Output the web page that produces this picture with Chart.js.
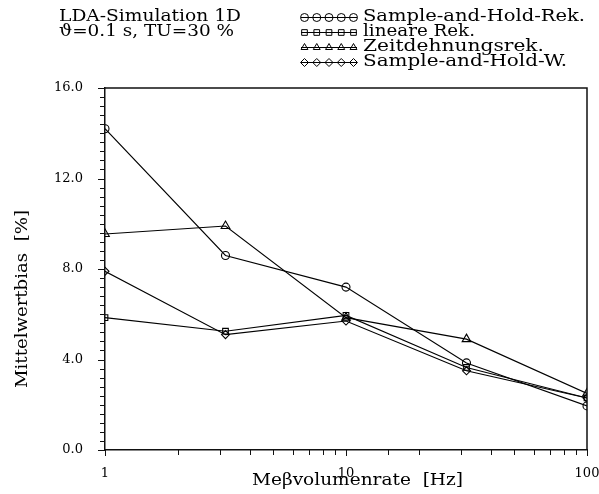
<!DOCTYPE html>
<html lang="de">
<head>
<meta charset="UTF-8">
<title>Mittelwertbias</title>
<script src="https://cdn.jsdelivr.net/npm/chart.js"></script>
<style>
  body { margin: 0; background: #fff; }
  canvas { display: block; }
</style>
</head>
<body>
<canvas id="biasChart" width="599" height="494"></canvas>
<script>
// Messvolumenrate [Hz]
const rates = [1, 3.162, 10, 31.62, 100];
// Mittelwertbias [%]
const sampleHoldRek = [14.2, 8.6, 7.2, 3.85, 1.95];
const lineareRek = [5.85, 5.25, 5.95, 3.65, 2.3];
const zeitdehnungsRek = [9.55, 9.9, 5.85, 4.9, 2.5];
const sampleHoldW = [7.9, 5.1, 5.7, 3.5, 2.3];

const seriesLabels = ['Sample-and-Hold-Rek.', 'lineare Rek.', 'Zeitdehnungsrek.', 'Sample-and-Hold-W.'];
const seriesStyles = ['circle', 'rect', 'triangle', 'rectRot'];
const xTickLabels = [1, 10, 100];
const yTickLabels = [0, 4, 8, 12, 16];

const FONT = '"DejaVu Serif", serif';

// draw text squeezed/stretched to a given width
function fitText(ctx, text, x, y, w, size) {
    ctx.save();
    ctx.font = size + 'px ' + FONT;
    ctx.textBaseline = 'middle';
    ctx.textAlign = 'left';
    const m = ctx.measureText(text).width;
    ctx.translate(x, y);
    ctx.scale(w / m, 1);
    ctx.fillText(text, 0, 0);
    ctx.restore();
}

const decorations = {
    id: 'decorations',
    afterDraw(chart) {
        const ctx = chart.ctx;
        const a = chart.chartArea;
        const xs = chart.scales.x, ys = chart.scales.y;
        ctx.save();
        ctx.strokeStyle = '#111';
        ctx.fillStyle = '#000';

        // frame top and right
        ctx.lineWidth = 1.5;
        ctx.beginPath();
        ctx.moveTo(a.left, a.top);
        ctx.lineTo(a.right, a.top);
        ctx.lineTo(a.right, a.bottom);
        ctx.stroke();

        // tick marks
        ctx.lineWidth = 1;
        ys.ticks.forEach(t => {
            const y = Math.round(ys.getPixelForValue(t.value)) + 0.5;
            const major = Math.abs(t.value / 4 - Math.round(t.value / 4)) < 1e-6;
            ctx.beginPath();
            ctx.moveTo(a.left - (major ? 7 : 5), y);
            ctx.lineTo(a.left, y);
            ctx.stroke();
        });
        xs.ticks.forEach(t => {
            const x = Math.round(xs.getPixelForValue(t.value)) + 0.5;
            const major = xTickLabels.includes(t.value);
            ctx.beginPath();
            ctx.moveTo(x, a.bottom);
            ctx.lineTo(x, a.bottom + (major ? 6 : 5));
            ctx.stroke();
        });

        // header text
        fitText(ctx, 'LDA-Simulation 1D', 59, 17, 182, 16);
        fitText(ctx, '\u03d1=0.1 s, TU=30 %', 59, 32, 175, 16);

        // legend
        const widths = [222, 112, 181, 204];
        const rows = [17, 32, 47, 62];
        chart.data.datasets.forEach((ds, i) => {
            const y = rows[i];
            ctx.strokeStyle = '#000';
            ctx.fillStyle = 'rgba(0,0,0,0)';
            ctx.lineWidth = 1;
            ctx.beginPath();
            ctx.moveTo(301, y + 0.5);
            ctx.lineTo(357, y + 0.5);
            ctx.stroke();
            for (let k = 0; k < 5; k++) {
                Chart.helpers.drawPoint(ctx, {
                    pointStyle: ds.pointStyle, radius: 4, borderWidth: 1, rotation: 0
                }, 304.5 + k * 12.25, y + 0.5);
            }
            ctx.fillStyle = '#000';
            fitText(ctx, ds.label, 363, y, widths[i], 16);
        });

        // axis titles
        ctx.save();
        ctx.translate(23, 299);
        ctx.rotate(-Math.PI / 2);
        fitText(ctx, 'Mittelwertbias  [%]', -89, 0, 178, 17);
        ctx.restore();
        fitText(ctx, 'Me\u03b2volumenrate  [Hz]', 252, 481, 211, 17);

        ctx.restore();
    }
};

const makeSet = (label, data, style) => ({
    label: label,
    data: rates.map((r, i) => ({ x: r, y: data[i] })),
    borderColor: '#000',
    borderWidth: 1.1,
    backgroundColor: 'rgba(0,0,0,0)',
    pointStyle: style,
    pointRadius: style === 'triangle' ? 5 : 4,
    pointBorderWidth: 1.1,
    pointBorderColor: '#000',
    pointBackgroundColor: 'rgba(0,0,0,0)',
    tension: 0,
    fill: false
});

new Chart(document.getElementById('biasChart'), {
    type: 'line',
    data: {
        datasets: [
            makeSet(seriesLabels[0], sampleHoldRek, seriesStyles[0]),
            makeSet(seriesLabels[1], lineareRek, seriesStyles[1]),
            makeSet(seriesLabels[2], zeitdehnungsRek, seriesStyles[2]),
            makeSet(seriesLabels[3], sampleHoldW, seriesStyles[3])
        ]
    },
    options: {
        responsive: false,
        animation: false,
        layout: { padding: { top: 88, right: 12, left: 0, bottom: 0 } },
        plugins: {
            legend: { display: false },
            tooltip: { enabled: false }
        },
        scales: {
            x: {
                type: 'logarithmic',
                min: 1,
                max: 100,
                grid: { display: false },
                border: { display: true, color: '#111', width: 1.5 },
                ticks: {
                    autoSkip: false,
                    maxRotation: 0,
                    padding: 8,
                    color: '#000',
                    font: { family: FONT, size: 13 },
                    callback: v => xTickLabels.includes(v) ? String(v) : ''
                },
                afterFit: s => { s.height = 44; s.paddingLeft = 0; s.paddingRight = 0; }
            },
            y: {
                min: 0,
                max: 16,
                grid: { display: false },
                border: { display: true, color: '#111', width: 1.5 },
                ticks: {
                    stepSize: 0.4,
                    autoSkip: false,
                    padding: 14,
                    color: '#000',
                    font: { family: FONT, size: 13 },
                    callback: v => yTickLabels.some(t => Math.abs(t - v) < 1e-6) ? v.toFixed(1) : ''
                },
                afterFit: s => { s.width = 105; s.paddingTop = 0; s.paddingBottom = 0; }
            }
        }
    },
    plugins: [decorations]
});
</script>
</body>
</html>
